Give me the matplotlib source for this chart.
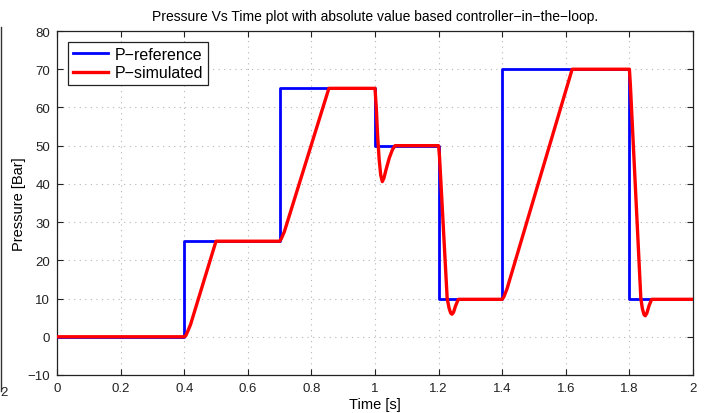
import matplotlib.pyplot as plt
from matplotlib.lines import Line2D

plt.rcParams['font.family'] = ['Liberation Sans', 'DejaVu Sans']

# reference pressure steps (value holds until the next time)
t_ref = [0.0, 0.4, 0.7, 1.0, 1.2, 1.4, 1.8, 2.0]
p_ref = [0, 25, 65, 50, 10, 70, 10, 10]

# simulated pressure response
t_sim = [0.000, 0.400, 0.405, 0.410, 0.420, 0.500, 0.700, 0.705, 0.715, 0.855,
         1.000, 1.004, 1.008, 1.013, 1.018, 1.023, 1.028, 1.035, 1.045, 1.055,
         1.063, 1.200, 1.203, 1.227, 1.233, 1.238, 1.242, 1.247, 1.253, 1.262,
         1.400, 1.405, 1.415, 1.620, 1.800, 1.803, 1.836, 1.841, 1.846, 1.850,
         1.855, 1.862, 1.870, 2.000]
p_sim = [0.0, 0.0, 0.3, 1.2, 3.2, 25.0, 25.0, 25.6, 27.5, 65.0,
         65.0, 60.0, 53.0, 46.5, 42.3, 40.6, 41.5, 43.8, 46.8, 49.0,
         50.0, 50.0, 47.0, 10.0, 7.5, 6.2, 5.9, 6.4, 8.0, 9.8,
         9.8, 10.4, 12.5, 70.0, 70.0, 66.0, 10.0, 7.3, 5.8, 5.5,
         6.2, 8.2, 9.8, 9.8]

xticks = [0, 0.2, 0.4, 0.6, 0.8, 1, 1.2, 1.4, 1.6, 1.8, 2]
xticklabels = ['0', '0.2', '0.4', '0.6', '0.8', '1', '1.2', '1.4', '1.6', '1.8', '2']
yticks = [-10, 0, 10, 20, 30, 40, 50, 60, 70, 80]

fig = plt.figure(figsize=(7.07, 4.14), dpi=100)
ax = fig.add_axes([0.0806, 0.0918, 0.8996, 0.8309])

ax.plot(t_ref, p_ref, color='#0000ff', lw=2.0, drawstyle='steps-post',
        label='P\u2212reference', zorder=3)
ax.plot(t_sim, p_sim, color='#ff0000', lw=2.4, label='P\u2212simulated', zorder=4)

ax.set_xlim(0, 2)
ax.set_ylim(-10, 80)
ax.set_xticks(xticks)
ax.set_xticklabels(xticklabels)
ax.set_yticks(yticks)
ax.set_yticklabels([str(v).replace('-', '\u2212') for v in yticks])
ax.tick_params(direction='in', top=True, right=True, length=4, width=0.8,
               labelsize=9.5, colors='#222222', pad=5)
ax.grid(True, color='#b5b5b5', linestyle=(0, (1, 4)), linewidth=0.8)
for s in ax.spines.values():
    s.set_linewidth(0.9)
    s.set_color('#222222')

ax.set_title('Pressure Vs Time plot with absolute value based controller\u2212in\u2212the\u2212loop.',
             fontsize=10, pad=8)
ax.set_xlabel('Time [s]', fontsize=10.5, labelpad=2)
ax.set_ylabel('Pressure [Bar]', fontsize=10.5, labelpad=1)

leg = ax.legend(loc='upper left', fontsize=11.5, frameon=True, fancybox=False,
                edgecolor='#222222', framealpha=1, handlelength=2.2,
                borderpad=0.3, labelspacing=0.2, handletextpad=0.4,
                borderaxespad=0.7)
leg.get_frame().set_linewidth(0.9)

# edge of the neighbouring panel
fig.add_artist(Line2D([0.002, 0.002], [0.052, 0.932], transform=fig.transFigure,
                      color='#333333', lw=1.0))
fig.text(0.001, 0.05, '2', fontsize=9.5, color='#222222', ha='left', va='center')

fig.savefig('out.png', dpi=100)
